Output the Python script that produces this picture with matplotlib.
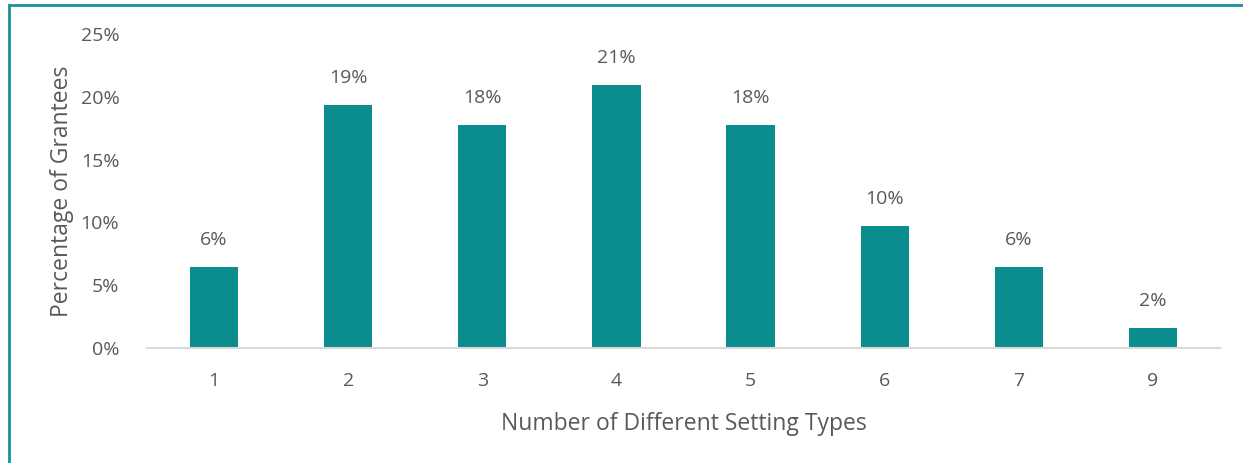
import matplotlib.pyplot as plt
from matplotlib.lines import Line2D
from matplotlib.ticker import FuncFormatter

# share of grantees by number of distinct setting types (n = 62)
setting_types = ["1", "2", "3", "4", "5", "6", "7", "9"]
grantee_counts = [4, 12, 11, 13, 11, 6, 4, 1]
total_grantees = 62
pct_grantees = [100 * c / total_grantees for c in grantee_counts]

BAR = "#0B8C8F"
TEXT = "#595959"

plt.rcParams["font.family"] = ["Open Sans", "DejaVu Sans"]

fig = plt.figure(figsize=(12.43, 4.63), dpi=100)
ax = fig.add_axes([0.1183, 0.2484, 0.8632, 0.6782])

x = range(len(setting_types))
bars = ax.bar(x, pct_grantees, width=0.36, color=BAR)
for rect, v in zip(bars, pct_grantees):
    ax.annotate(f"{v:.0f}%", (rect.get_x() + rect.get_width() / 2, v),
                xytext=(0, 13), textcoords="offset points",
                ha="center", va="bottom", fontsize=14, color=TEXT)

ax.set_xlim(-0.5, len(setting_types) - 0.5)
ax.set_ylim(0, 25)
ax.set_yticks([0, 5, 10, 15, 20, 25])
ax.yaxis.set_major_formatter(FuncFormatter(lambda v, _: f"{v:.0f}%"))
ax.set_xticks(list(x), setting_types)

for side in ("top", "right", "left"):
    ax.spines[side].set_visible(False)
ax.spines["bottom"].set_color("#D9D9D9")
ax.spines["bottom"].set_linewidth(1.5)
ax.tick_params(axis="both", length=0, labelsize=14, labelcolor=TEXT)
ax.tick_params(axis="y", pad=20)
ax.tick_params(axis="x", pad=17)

ax.set_xlabel("Number of Different Setting Types", fontsize=16.5, color=TEXT, labelpad=16)
ax.set_ylabel("Percentage of Grantees", fontsize=16.5, color=TEXT, labelpad=5)

# teal frame along the top and left edges
fig.add_artist(Line2D([0.0072, 1.0], [0.989, 0.989], transform=fig.transFigure,
                      color="#1A9396", linewidth=2))
fig.add_artist(Line2D([0.0072, 0.0072], [0.0, 0.989], transform=fig.transFigure,
                      color="#1A9396", linewidth=2))

fig.savefig("out.png", dpi=100)
